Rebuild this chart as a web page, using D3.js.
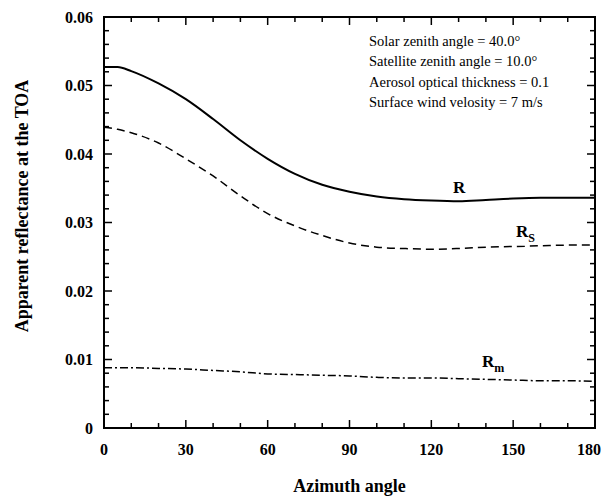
<!DOCTYPE html>
<html>
<head>
<meta charset="utf-8">
<script src="https://cdn.jsdelivr.net/npm/d3@7"></script>
<style>
  body { margin: 0; background: #fff; }
  text { font-family: "Liberation Serif", "Times New Roman", serif; }
</style>
</head>
<body>
<svg id="chart" width="605" height="499"></svg>
<script>
var azimuth = [0, 5, 10, 20, 30, 40, 50, 60, 70, 80, 90, 100, 110, 120, 130, 140, 150, 160, 170, 180];
// total reflectance R
var rTotal = [0.0527, 0.0527, 0.0521, 0.0503, 0.0480, 0.0451, 0.0420, 0.0393, 0.0371, 0.0355, 0.0345,
  0.0338, 0.0334, 0.0332, 0.0331, 0.0333, 0.0335, 0.0336, 0.0336, 0.0336];
// surface part Rs
var rSurface = [0.0439, 0.0436, 0.0431, 0.0416, 0.0393, 0.0368, 0.0339, 0.0313, 0.0295, 0.0281, 0.0270,
  0.0264, 0.0262, 0.0261, 0.0262, 0.0264, 0.0265, 0.0266, 0.0267, 0.0267];
// molecular/aerosol part Rm
var rMol = [0.0088, 0.0088, 0.0088, 0.0087, 0.0086, 0.0084, 0.0082, 0.0079, 0.0078, 0.0077, 0.0076,
  0.0074, 0.0073, 0.0073, 0.0072, 0.0071, 0.0070, 0.0069, 0.0069, 0.0068];

var xTicks = [0, 30, 60, 90, 120, 150, 180];
var yTicks = [0, 0.01, 0.02, 0.03, 0.04, 0.05, 0.06];
var notes = [
  "Solar zenith angle = 40.0\u00b0",
  "Satellite zenith angle = 10.0\u00b0",
  "Aerosol optical thickness = 0.1",
  "Surface wind velosity = 7 m/s"
];

var svg = d3.select("#chart");
var padL = 104, padR = 595, padT = 17, padB = 428;

var x = d3.scaleLinear().domain([0, 180]).range([padL, padR]);
var y = d3.scaleLinear().domain([0, 0.06]).range([padB, padT]);

var g = svg.append("g");

// minor + major ticks, all pointing inward, on the four sides
var xMinor = d3.range(0, 181, 10);
var yMinor = d3.range(0, 0.0601, 0.002);

function isMajorX(v) { return v % 30 === 0; }
function isMajorY(v) { return Math.abs(v / 0.01 - Math.round(v / 0.01)) < 1e-6; }

xMinor.forEach(function(v) {
  var len = isMajorX(v) ? 8 : 5;
  g.append("line").attr("x1", x(v)).attr("x2", x(v))
    .attr("y1", padB).attr("y2", padB - len)
    .attr("stroke", "#000").attr("stroke-width", 1.5);
  g.append("line").attr("x1", x(v)).attr("x2", x(v))
    .attr("y1", padT).attr("y2", padT + len)
    .attr("stroke", "#000").attr("stroke-width", 1.5);
});
yMinor.forEach(function(v) {
  var len = isMajorY(v) ? 8 : 5;
  g.append("line").attr("x1", padL).attr("x2", padL + len)
    .attr("y1", y(v)).attr("y2", y(v))
    .attr("stroke", "#000").attr("stroke-width", 1.5);
  g.append("line").attr("x1", padR).attr("x2", padR - len)
    .attr("y1", y(v)).attr("y2", y(v))
    .attr("stroke", "#000").attr("stroke-width", 1.5);
});

// frame
g.append("rect")
  .attr("x", padL).attr("y", padT)
  .attr("width", padR - padL).attr("height", padB - padT)
  .attr("fill", "none").attr("stroke", "#000").attr("stroke-width", 2);

// tick labels (last one nudged in so it is not clipped)
g.selectAll(".xlab").data(xTicks).enter().append("text")
  .attr("x", d => Math.min(x(d), 589)).attr("y", 455)
  .attr("text-anchor", "middle")
  .attr("font-weight", "bold").attr("font-size", 16)
  .text(d => d);

g.selectAll(".ylab").data(yTicks).enter().append("text")
  .attr("x", 93).attr("y", d => y(d) + 5.5)
  .attr("text-anchor", "end")
  .attr("font-weight", "bold").attr("font-size", 16)
  .text(d => d === 0 ? "0" : d3.format(".2f")(d));

// axis titles
svg.append("text")
  .attr("x", (padL + padR) / 2).attr("y", 492)
  .attr("text-anchor", "middle")
  .attr("font-weight", "bold").attr("font-size", 18)
  .text("Azimuth angle");

svg.append("text")
  .attr("transform", "translate(28,206) rotate(-90)")
  .attr("text-anchor", "middle")
  .attr("font-weight", "bold").attr("font-size", 18)
  .text("Apparent reflectance at the TOA");

// curves
var line = d3.line()
  .x((d, i) => x(azimuth[i]))
  .y(d => y(d))
  .curve(d3.curveMonotoneX);

g.append("path").attr("d", line(rTotal))
  .attr("fill", "none").attr("stroke", "#000").attr("stroke-width", 2);
g.append("path").attr("d", line(rSurface))
  .attr("fill", "none").attr("stroke", "#000").attr("stroke-width", 1.5)
  .attr("stroke-dasharray", "8,5");
g.append("path").attr("d", line(rMol))
  .attr("fill", "none").attr("stroke", "#000").attr("stroke-width", 1.5)
  .attr("stroke-dasharray", "8,3,2,3");

// curve labels
function label(px, py, main, sub) {
  var t = svg.append("text").attr("x", px).attr("y", py)
    .attr("font-weight", "bold").attr("font-size", 17);
  t.append("tspan").text(main);
  if (sub) t.append("tspan").attr("font-size", 12).attr("dy", 5).text(sub);
}
label(453, 193, "R");
label(516, 237, "R", "S");
label(482, 367, "R", "m");

// parameter notes
svg.selectAll(".note").data(notes).enter().append("text")
  .attr("x", 369).attr("y", (d, i) => 46 + i * 20.3)
  .attr("font-size", 14.5)
  .text(d => d);
</script>
</body>
</html>
